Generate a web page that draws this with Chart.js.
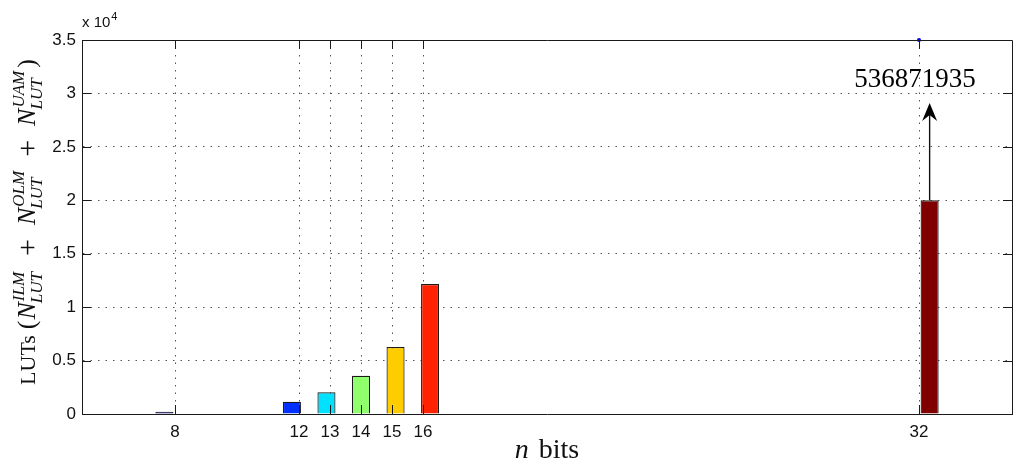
<!DOCTYPE html>
<html>
<head>
  <meta charset="UTF-8">
  <title>LUTs por n bits</title>
  <script src="https://cdn.jsdelivr.net/npm/chart.js"></script>
  <style>
    body { margin: 0; background: #fff; }
    canvas { display: block; }
  </style>
</head>
<body>
  <canvas id="grafico" width="1024" height="475"></canvas>

  <script>
    // valores
    const nBits = [8, 12, 13, 14, 15, 16, 32];
    const luts = [200, 1150, 2030, 3580, 6270, 12160, 20000];
    const barColors = ['#00008f', '#0030ff', '#00e0ff', '#90ff6c', '#ffcc00', '#ff2200', '#800000'];
    const xTicks = [8, 12, 13, 14, 15, 16, 32];
    const yTicks = [0, 5000, 10000, 15000, 20000, 25000, 30000, 35000];
    const markerPoint = [{x: 32, y: 35000}];
    const arrowTipY = 29100;
    const arrowText = '536871935';
    const arrowTextPos = {x: 31.87, y: 30600};

    const serif = '"Liberation Serif", "DejaVu Serif", serif';
    const sans = '"Liberation Sans", Arial, sans-serif';

    const datasets = nBits.map((n, i) => ({
      type: 'bar',
      label: String(n),
      data: [{x: n, y: luts[i]}],
      backgroundColor: barColors[i],
      borderColor: '#1a1a1a',
      borderWidth: 1.2,
      categoryPercentage: 0.8,
      barPercentage: 5.1
    }));
    datasets.push({
      type: 'scatter',
      data: markerPoint,
      pointRadius: 2,
      backgroundColor: '#0000ff',
      borderWidth: 0,
      clip: false
    });

    // rotulo y: LUTs (N^ILM_LUT + N^OLM_LUT + N^UAM_LUT)
    const yLabel = [
      {t: 'LUTs', size: 22, gap: 6},
      {t: '(', size: 26, gap: 1},
      {sup: 'ILM', sub: 'LUT'},
      {t: '+', size: 30, pre: 14, gap: 14},
      {sup: 'OLM', sub: 'LUT'},
      {t: '+', size: 30, pre: 14, gap: 14},
      {sup: 'UAM', sub: 'LUT', gap: 3},
      {t: ')', size: 26}
    ];

    function drawParts(ctx, parts, x0, draw) {
      let x = x0;
      for (const p of parts) {
        x += p.pre || 0;
        if (p.sup) {
          ctx.font = 'italic 26px ' + serif;
          if (draw) ctx.fillText('N', x, 0);
          x += ctx.measureText('N').width + 1;
          ctx.font = 'italic 17px ' + serif;
          if (draw) {
            ctx.fillText(p.sup, x, -11);
            ctx.fillText(p.sub, x - 2, 7);
          }
          x += Math.max(ctx.measureText(p.sup).width, ctx.measureText(p.sub).width);
        } else {
          ctx.font = p.size + 'px ' + serif;
          if (draw) ctx.fillText(p.t, x, p.t === '+' ? 2 : 0);
          x += ctx.measureText(p.t).width;
        }
        x += p.gap || 0;
      }
      return x - x0;
    }

    const decor = {
      id: 'decor',
      afterDraw(chart) {
        const {ctx, chartArea: a, scales: {x, y}} = chart;
        ctx.save();
        ctx.strokeStyle = '#1a1a1a';
        ctx.lineWidth = 1;

        // caixa (topo e direita)
        ctx.beginPath();
        ctx.moveTo(a.left, a.top + 0.5);
        ctx.lineTo(a.right + 0.5, a.top + 0.5);
        ctx.lineTo(a.right + 0.5, a.bottom);
        ctx.stroke();

        // marcas para dentro
        const tl = 9;
        ctx.beginPath();
        yTicks.forEach(v => {
          const py = Math.round(y.getPixelForValue(v)) + 0.5;
          ctx.moveTo(a.left, py); ctx.lineTo(a.left + tl, py);
          ctx.moveTo(a.right, py); ctx.lineTo(a.right - tl, py);
        });
        xTicks.forEach(v => {
          const px = Math.round(x.getPixelForValue(v)) + 0.5;
          ctx.moveTo(px, a.bottom); ctx.lineTo(px, a.bottom - tl);
          ctx.moveTo(px, a.top); ctx.lineTo(px, a.top + tl);
        });
        ctx.stroke();

        // x 10^4
        ctx.fillStyle = '#111';
        ctx.textBaseline = 'alphabetic';
        ctx.textAlign = 'left';
        ctx.font = '15px ' + sans;
        ctx.fillText('x 10', a.left, a.top - 13);
        const w10 = ctx.measureText('x 10').width;
        ctx.font = '11px ' + sans;
        ctx.fillText('4', a.left + w10 + 1, a.top - 20);

        // titulo x
        ctx.font = 'italic 28px ' + serif;
        const wn = ctx.measureText('n').width + 10;
        ctx.font = '28px ' + serif;
        const wb = ctx.measureText('bits').width;
        const sx = (a.left + a.right) / 2 - (wn + wb) / 2;
        ctx.font = 'italic 28px ' + serif;
        ctx.fillText('n', sx, 458);
        ctx.font = '28px ' + serif;
        ctx.fillText('bits', sx + wn, 458);

        // titulo y
        ctx.save();
        ctx.translate(35, (a.top + a.bottom) / 2 - 5);
        ctx.rotate(-Math.PI / 2);
        const total = drawParts(ctx, yLabel, 0, false);
        drawParts(ctx, yLabel, -total / 2, true);
        ctx.restore();

        // seta e valor
        const bar = chart.getDatasetMeta(6).data[0];
        const ax = bar.x;
        const ay0 = bar.y;
        const ay1 = y.getPixelForValue(arrowTipY);
        ctx.strokeStyle = '#111';
        ctx.lineWidth = 1.4;
        ctx.beginPath();
        ctx.moveTo(ax, ay0);
        ctx.lineTo(ax, ay1 + 10);
        ctx.stroke();
        ctx.fillStyle = '#000';
        ctx.beginPath();
        ctx.moveTo(ax, ay1);
        ctx.lineTo(ax + 7.5, ay1 + 18);
        ctx.lineTo(ax, ay1 + 12);
        ctx.lineTo(ax - 7.5, ay1 + 18);
        ctx.closePath();
        ctx.fill();

        ctx.font = '27px ' + serif;
        ctx.textAlign = 'center';
        ctx.fillText(arrowText, x.getPixelForValue(arrowTextPos.x), y.getPixelForValue(arrowTextPos.y));
        ctx.restore();
      }
    };

    const chart = new Chart(document.getElementById('grafico'), {
      type: 'bar',
      data: { datasets },
      options: {
        responsive: false,
        animation: false,
        devicePixelRatio: 1,
        layout: { padding: { top: 40, right: 12, left: 0, bottom: 0 } },
        plugins: { legend: { display: false }, tooltip: { enabled: false } },
        scales: {
          x: {
            type: 'linear',
            min: 5,
            max: 35,
            offset: false,
            afterBuildTicks: s => { s.ticks = xTicks.map(v => ({value: v})); },
            afterFit: s => { s.height = 61; },
            grid: { offset: false, color: '#555', lineWidth: 1, drawTicks: false },
            border: { display: true, color: '#1a1a1a', width: 1, dash: [1.5, 6] },
            ticks: { font: { family: sans, size: 17 }, color: '#111', padding: 8, autoSkip: false, maxRotation: 0 }
          },
          y: {
            min: 0,
            max: 35000,
            afterBuildTicks: s => { s.ticks = yTicks.map(v => ({value: v})); },
            afterFit: s => { s.width = 82; },
            grid: { color: '#555', lineWidth: 1, drawTicks: false },
            border: { display: true, color: '#1a1a1a', width: 1, dash: [1.5, 6] },
            ticks: {
              font: { family: sans, size: 17 },
              color: '#111',
              padding: 6,
              callback: v => String(v / 10000)
            }
          }
        }
      },
      plugins: [decor]
    });
  </script>
</body>
</html>
